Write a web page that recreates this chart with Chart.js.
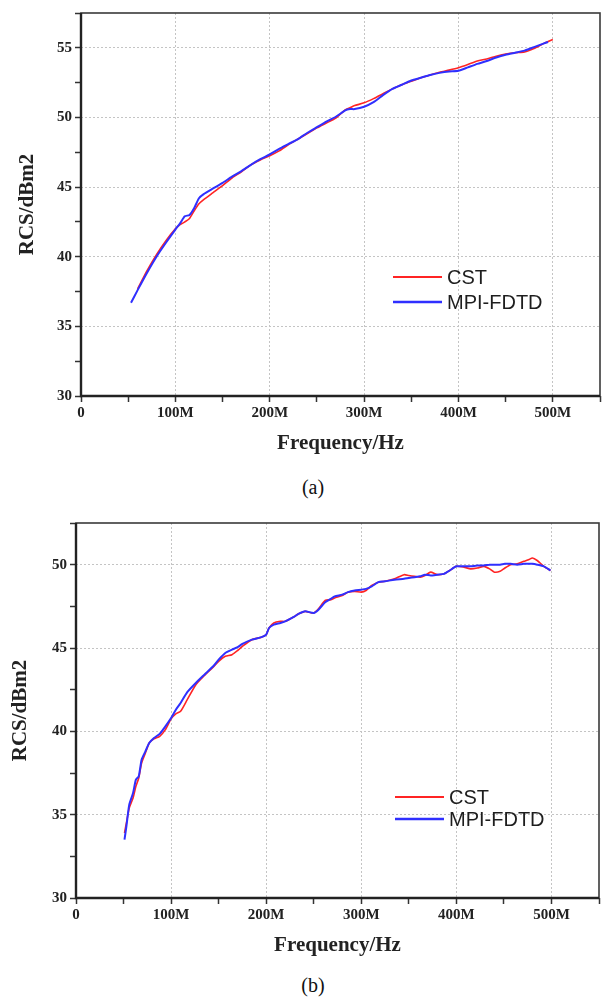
<!DOCTYPE html>
<html>
<head>
<meta charset="utf-8">
<script src="https://cdn.jsdelivr.net/npm/chart.js@4/dist/chart.umd.min.js"></script>
<style>
    html, body { margin: 0; padding: 0; background: #fff; }
    body { width: 602px; height: 998px; position: relative; overflow: hidden; }
    .panel { position: absolute; left: 0; }
    .caption {
        position: absolute;
        width: 80px;
        margin-left: -40px;
        text-align: center;
        font: 20px "Liberation Serif", "Times New Roman", serif;
        color: #111;
        line-height: 24px;
    }
</style>
</head>
<body>
<div class="panel" style="top:0px"><canvas id="chart-a" width="602" height="470"></canvas></div>
<div class="caption" style="left:313px; top:475px">(a)</div>
<div class="panel" style="top:500px"><canvas id="chart-b" width="602" height="472"></canvas></div>
<div class="caption" style="left:313px; top:973px">(b)</div>

<script>
// --- Data (frequency in MHz, RCS in dBm2) ---
const FREQ_A = [53, 60, 70, 80, 90, 100, 105, 110, 115, 120, 125, 130, 140, 150, 160, 170, 180, 190, 200,
    210, 220, 230, 240, 250, 260, 270, 280, 285, 290, 300, 310, 320, 330, 340, 350, 360, 370, 380, 390,
    400, 410, 420, 430, 440, 450, 460, 470, 480, 490, 495, 500];
const CST_A = [null, 37.7, 39.0, 40.15, 41.15, 42.0, 42.3, 42.5, 42.75, 43.3, 43.8, 44.1, 44.6, 45.1, 45.65,
    46.1, 46.6, 46.95, 47.25, 47.6, 48.05, 48.45, 48.85, 49.25, 49.6, 49.95, 50.55, 50.7, 50.85, 51.05,
    51.35, 51.7, 52.05, 52.35, 52.6, 52.85, 53.05, 53.25, 53.4, 53.57, 53.8, 54.05, 54.2, 54.4, 54.55,
    54.65, 54.7, 54.95, 55.3, 55.45, 55.6];
const FDTD_A = [36.7, 37.6, 38.85, 40.0, 41.0, 41.95, 42.4, 42.9, 43.0, 43.5, 44.2, 44.5, 44.9, 45.3, 45.75,
    46.15, 46.6, 47.0, 47.35, 47.75, 48.1, 48.45, 48.9, 49.3, 49.7, 50.05, 50.5, 50.6, 50.6, 50.77,
    51.1, 51.6, 52.05, 52.35, 52.65, 52.85, 53.05, 53.2, 53.3, 53.35, 53.6, 53.85, 54.05, 54.3, 54.5,
    54.65, 54.8, 55.05, 55.3, 55.42, null];

const FREQ_B = [51, 53, 56, 60, 63, 66, 69, 73, 77, 82, 88, 94, 100, 105, 110, 117, 126, 135, 145, 150,
    157, 164, 170, 175, 185, 195, 200, 203, 208, 215, 220, 230, 234, 241, 250, 255, 262, 268, 272, 280,
    286, 293, 300, 305, 311, 318, 325, 335, 345, 350, 356, 362, 367, 373, 380, 387, 393, 400, 408, 415,
    422, 429, 435, 440, 446, 451, 457, 464, 471, 476, 480, 485, 492, 499];
const CST_B = [33.9, 34.5, 35.4, 36.0, 36.7, 37.2, 38.1, 38.7, 39.3, 39.55, 39.7, 40.1, 40.75, 41.05, 41.2,
    41.9, 42.8, 43.35, 43.9, 44.2, 44.5, 44.6, 44.85, 45.1, 45.5, 45.65, 45.8, 46.2, 46.5, 46.6, 46.6,
    46.9, 47.05, 47.2, 47.1, 47.35, 47.85, 47.9, 48.0, 48.15, 48.35, 48.4, 48.35, 48.45, 48.75, 48.95,
    49.0, 49.15, 49.4, 49.35, 49.3, 49.25, 49.35, 49.55, 49.4, 49.45, 49.65, 49.9, 49.85, 49.75, 49.8,
    49.9, 49.75, 49.55, 49.6, 49.8, 50.0, 50.05, 50.2, 50.3, 50.4, 50.25, 49.9, 49.65];
const FDTD_B = [33.5, 34.3, 35.6, 36.3, 37.1, 37.3, 38.3, 38.8, 39.3, 39.6, 39.85, 40.3, 40.8, 41.3, 41.7,
    42.35, 42.9, 43.4, 43.95, 44.3, 44.7, 44.9, 45.05, 45.25, 45.5, 45.65, 45.8, 46.2, 46.4, 46.5, 46.6,
    46.9, 47.05, 47.2, 47.1, 47.3, 47.75, 47.95, 48.1, 48.2, 48.35, 48.45, 48.5, 48.55, 48.7, 48.95,
    49.0, 49.1, 49.15, 49.2, 49.25, 49.3, 49.4, 49.35, 49.4, 49.45, 49.65, 49.9, 49.9, 49.9, 49.95,
    49.95, 50.0, 50.0, 50.0, 50.05, 50.05, 50.0, 50.05, 50.05, 50.05, 50.0, 49.9, 49.65];

const SERIES_LABELS = ['CST', 'MPI-FDTD'];
const X_MAX = 550;
const Y_MIN = 30;

// --- Styling ---
const SERIF = '"Liberation Serif", "Times New Roman", serif';
const SANS = '"Liberation Sans", Arial, sans-serif';
const RED = '#ff2424';
const BLUE = '#2f2fff';

// frame round the plot area: heavy left/bottom axis, lighter top/right
const framePlugin = {
    id: 'frame',
    afterDraw(chart) {
        const { ctx, chartArea: a } = chart;
        ctx.save();
        ctx.strokeStyle = '#3a3a3a';
        ctx.lineWidth = 1.6;
        ctx.strokeRect(a.left, a.top, a.right - a.left, a.bottom - a.top);
        ctx.strokeStyle = '#222';
        ctx.lineWidth = 2.4;
        ctx.beginPath();
        ctx.moveTo(a.left, a.top);
        ctx.lineTo(a.left, a.bottom);
        ctx.lineTo(a.right, a.bottom);
        ctx.stroke();
        ctx.restore();
    }
};

// legend drawn inside the plot area
const inlineLegend = {
    id: 'inlineLegend',
    afterDatasetsDraw(chart, args, opts) {
        const { ctx, chartArea } = chart;
        ctx.save();
        ctx.font = '20px ' + SANS;
        ctx.textBaseline = 'middle';
        ctx.textAlign = 'left';
        SERIES_LABELS.forEach((label, i) => {
            const ds = chart.data.datasets.find(d => d.label === label);
            const x = chartArea.left + opts.left;
            const y = chartArea.top + opts.top + i * opts.rowGap;
            ctx.strokeStyle = ds.borderColor;
            ctx.lineWidth = ds.borderWidth + 0.6;
            ctx.beginPath();
            ctx.moveTo(x, y);
            ctx.lineTo(x + 49, y);
            ctx.stroke();
            ctx.fillStyle = '#1e1e1e';
            ctx.fillText(label, x + 54, y + 1);
        });
        ctx.restore();
    }
};

function toPoints(freq, vals) {
    return freq.map((f, i) => ({ x: f, y: vals[i] }));
}

function makeChart(id, freq, cst, fdtd, yMax, box) {
    const ctx = document.getElementById(id).getContext('2d');
    return new Chart(ctx, {
        type: 'line',
        data: {
            datasets: [
                {
                    label: 'CST',
                    data: toPoints(freq, cst),
                    borderColor: RED,
                    borderWidth: 1.6,
                    pointRadius: 0,
                    tension: 0.2,
                    order: 1
                },
                {
                    label: 'MPI-FDTD',
                    data: toPoints(freq, fdtd),
                    borderColor: BLUE,
                    borderWidth: 2,
                    pointRadius: 0,
                    tension: 0.2,
                    order: 0
                }
            ]
        },
        options: {
            responsive: false,
            animation: false,
            devicePixelRatio: 1,
            layout: { padding: { top: box.top, right: box.right, left: 0, bottom: 0 } },
            plugins: {
                legend: { display: false },
                tooltip: { enabled: false },
                inlineLegend: { left: box.legendLeft, top: box.legendTop, rowGap: box.legendGap }
            },
            scales: {
                x: {
                    type: 'linear',
                    min: 0,
                    max: X_MAX,
                    afterFit: (scale) => { scale.height = 74; },
                    border: { display: false, dash: [2, 2] },
                    grid: {
                        color: (c) => (c.tick && c.tick.value % 100 === 0) ? '#c4c4c4' : 'rgba(0,0,0,0)',
                        lineWidth: 1,
                        tickColor: '#333',
                        tickWidth: 1.5,
                        tickLength: 6
                    },
                    ticks: {
                        stepSize: 50,
                        autoSkip: false,
                        maxRotation: 0,
                        padding: 2,
                        color: '#222',
                        font: { family: SERIF, size: 15, weight: 'bold' },
                        callback: (v) => v === 0 ? '0' : (v % 100 === 0 ? v + 'M' : '')
                    },
                    title: {
                        display: true,
                        text: 'Frequency/Hz',
                        color: '#222',
                        font: { family: SERIF, size: 21, weight: 'bold' },
                        padding: { top: 0, bottom: 14 }
                    }
                },
                y: {
                    min: Y_MIN,
                    max: yMax,
                    afterFit: (scale) => { scale.width = box.left; },
                    border: { display: false, dash: [2, 2] },
                    grid: {
                        color: (c) => (c.tick && c.tick.value % 5 === 0) ? '#c4c4c4' : 'rgba(0,0,0,0)',
                        lineWidth: 1,
                        tickColor: '#333',
                        tickWidth: 1.5,
                        tickLength: 6
                    },
                    ticks: {
                        stepSize: 2.5,
                        autoSkip: false,
                        padding: 3,
                        color: '#222',
                        font: { family: SERIF, size: 15, weight: 'bold' },
                        callback: (v) => v % 5 === 0 ? String(v) : ''
                    },
                    title: {
                        display: true,
                        text: 'RCS/dBm2',
                        color: '#222',
                        font: { family: SERIF, size: 21, weight: 'bold' },
                        padding: { top: box.yTitlePad, bottom: 0 }
                    }
                }
            }
        },
        plugins: [framePlugin, inlineLegend]
    });
}

// --- Build ---
makeChart('chart-a', FREQ_A, CST_A, FDTD_A, 57.5,
    { top: 13, right: 2, left: 81, yTitlePad: 15, legendLeft: 312, legendTop: 264, legendGap: 25 });
makeChart('chart-b', FREQ_B, CST_B, FDTD_B, 52.5,
    { top: 23, right: 3, left: 76, yTitlePad: 8, legendLeft: 319, legendTop: 274, legendGap: 22 });
</script>
</body>
</html>
